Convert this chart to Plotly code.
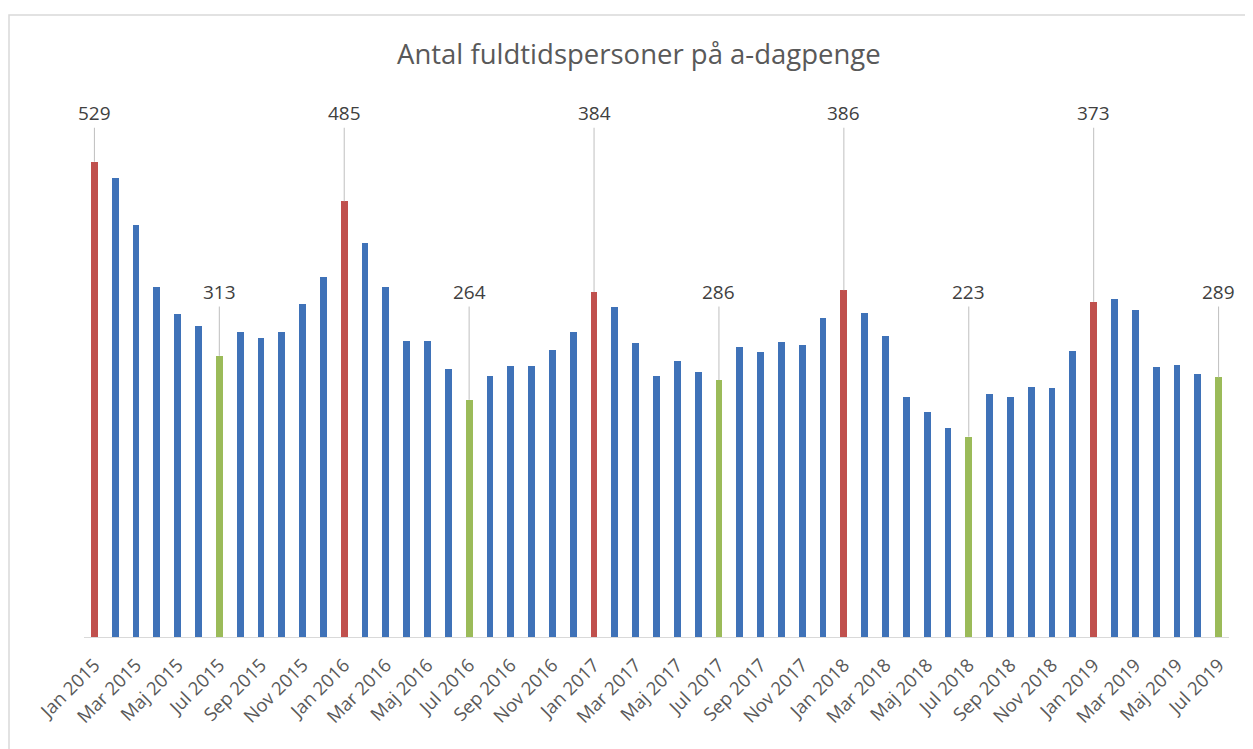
import plotly.graph_objects as go

months = ["Jan", "Feb", "Mar", "Apr", "Maj", "Jun", "Jul", "Aug", "Sep", "Okt", "Nov", "Dec"]
categories = [f"{m} {y}" for y in range(2015, 2020) for m in months][:55]

values = [
    529, 511, 459, 390, 359, 346, 313, 340, 333, 339, 371, 401,
    485, 439, 390, 330, 330, 298, 264, 290, 302, 302, 320, 340,
    384, 367, 327, 290, 307, 295, 286, 323, 317, 328, 325, 355,
    386, 361, 335, 267, 251, 233, 223, 271, 267, 278, 277, 318,
    373, 376, 364, 301, 303, 293, 289,
]

BLUE = "#3f72b8"
RED = "#c0504d"
GREEN = "#9bbb59"

colors = []
for c in categories:
    if c.startswith("Jan"):
        colors.append(RED)
    elif c.startswith("Jul"):
        colors.append(GREEN)
    else:
        colors.append(BLUE)

xs = list(range(len(categories)))
tickvals = xs[::2]
ticktext = categories[::2]

fig = go.Figure()
fig.add_trace(go.Bar(x=xs, y=values, marker=dict(color=colors, line=dict(width=0)), width=0.33,
                     hoverinfo="text", hovertext=[f"{c}: {v}" for c, v in zip(categories, values)]))

annotations = []
for i, (c, v) in enumerate(zip(categories, values)):
    if c.startswith("Jan"):
        ay = 583
    elif c.startswith("Jul"):
        ay = 384
    else:
        continue
    annotations.append(dict(
        x=i, y=v, xref="x", yref="y", text=str(v), showarrow=True,
        axref="x", ayref="y", ax=i, ay=ay, arrowhead=0, arrowwidth=1,
        arrowcolor="#bfbfbf", standoff=0, startstandoff=0,
        font=dict(family="Open Sans", size=19, color="#404040"),
    ))

L, T, PW, PH = 76, 72, 1145, 557
annotations.append(dict(
    text="Antal fuldtidspersoner på a-dagpenge", xref="paper", yref="paper",
    x=(631 - L) / PW, y=(T + PH - 46) / PH, xanchor="center", yanchor="middle",
    showarrow=False, font=dict(family="Open Sans", size=27.5, color="#595959"),
))

fig.update_layout(
    width=1253, height=749,
    margin=dict(l=L, r=1253 - L - PW, t=T, b=749 - T - PH),
    paper_bgcolor="white", plot_bgcolor="white",
    showlegend=False,
    bargap=0,
    annotations=annotations,
    xaxis=dict(range=[-0.5, 54.5], tickvals=tickvals, ticktext=ticktext, tickangle=-45,
               showgrid=False, zeroline=False, showline=True, linecolor="#d9d9d9", linewidth=1,
               ticks="outside", ticklen=9, tickcolor="rgba(0,0,0,0)",
               tickfont=dict(family="Open Sans", size=18.5, color="#595959")),
    yaxis=dict(range=[0, 620], visible=False, showgrid=False, zeroline=False),
    shapes=[dict(type="rect", xref="paper", yref="paper",
                 x0=(1 - L) / PW, x1=1.2, y0=-0.5, y1=(T + PH - 7) / PH,
                 line=dict(color="#d9d9d9", width=1.5), layer="below")],
)

fig.write_html("out.html")
